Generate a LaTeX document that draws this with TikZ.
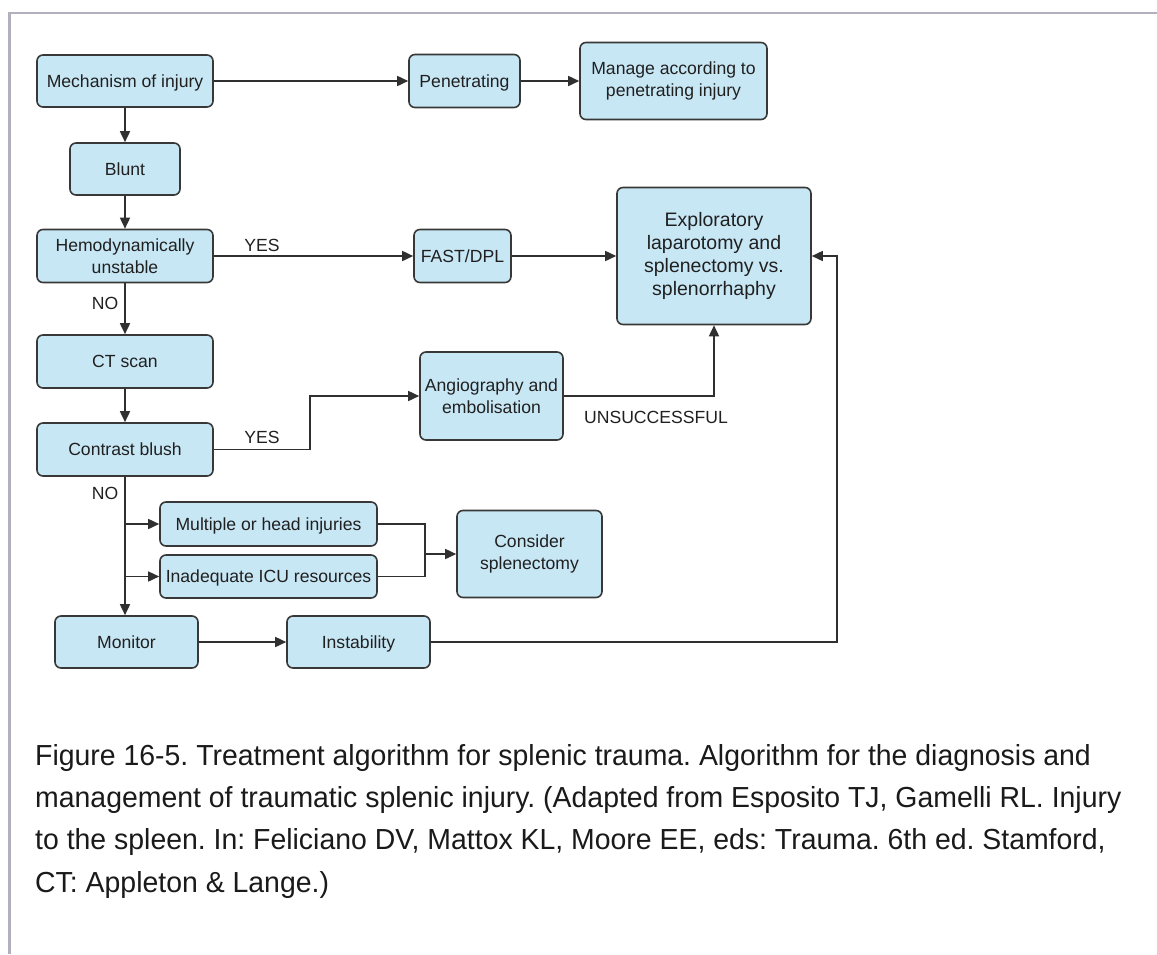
\documentclass[tikz,border=0pt]{standalone}
\usepackage{fontspec}
\setmainfont{Liberation Sans}
\newfontfamily\capfont[FakeStretch=0.98]{Liberation Sans}
\usetikzlibrary{arrows.meta,calc}
\definecolor{boxfill}{HTML}{C8E7F5}
\definecolor{boxline}{HTML}{383838}
\definecolor{linecol}{HTML}{303030}
\definecolor{txt}{HTML}{202020}
\definecolor{bordercol}{HTML}{B0B0BE}
\definecolor{captxt}{HTML}{1A1A1A}
\frenchspacing
\tikzset{
  box/.style={draw=boxline, fill=boxfill, line width=1.6pt, rounded corners=6pt,
    inner sep=0pt, align=center, text=txt, font=\fontsize{17.6}{21.7}\selectfont},
  oneline/.style={text height=14.6pt, text depth=2pt},
  bigbox/.style={box, font=\fontsize{19.5}{23.3}\selectfont},
  lbl/.style={inner sep=0pt, text=txt, font=\fontsize{17.6}{20}\selectfont},
  conn/.style={draw=linecol, line width=1.6pt},
  arr/.style={conn, -{Triangle[length=11pt,width=10pt]}},
  capline/.style={inner sep=0pt, anchor=base west, text=captxt, font=\capfont\fontsize{29}{42}\selectfont}
}
\begin{document}
\begin{tikzpicture}[x=1pt,y=-1pt]
\useasboundingbox (0,0) rectangle (1157,954);
\draw[bordercol, line width=2.5pt] (9.5,954) -- (9.5,13) -- (1157,13);

% left column
\node[box, oneline, minimum width=176, minimum height=52] (mech) at (125,81) {Mechanism of injury};
\node[box, oneline, minimum width=110, minimum height=52] (blunt) at (125,169) {Blunt};
\node[box, minimum width=176, minimum height=53] (hemo) at (125,256) {Hemodynamically\\unstable};
\node[box, oneline, minimum width=176, minimum height=53] (ct) at (125,361.5) {CT scan};
\node[box, oneline, minimum width=176, minimum height=53] (contrast) at (125,449.5) {Contrast blush};
\node[box, oneline, minimum width=143, minimum height=52] (monitor) at (126.5,642) {Monitor};

% right part
\node[box, oneline, minimum width=111, minimum height=53] (pen) at (464.5,81) {Penetrating};
\node[box, minimum width=187, minimum height=77] (manage) at (673.5,81) {Manage according to\\penetrating injury};
\node[box, oneline, minimum width=97, minimum height=53] (fast) at (462.5,256) {FAST/DPL};
\node[bigbox, minimum width=194, minimum height=137] (explo) at (714,256) {Exploratory\\laparotomy and\\splenectomy vs.\\splenorrhaphy};
\node[box, minimum width=143, minimum height=88] (angio) at (491.5,396) {Angiography and\\embolisation};
\node[box, oneline, minimum width=217, minimum height=44] (multi) at (268.5,524) {Multiple or head injuries};
\node[box, oneline, minimum width=217, minimum height=43] (icu) at (268.5,576.5) {Inadequate ICU resources};
\node[box, minimum width=145, minimum height=87] (consider) at (529.5,554) {Consider\\splenectomy};
\node[box, oneline, minimum width=143, minimum height=52] (instab) at (358.5,642) {Instability};

% labels
\node[lbl] (yes1) at (262,245) {YES};
\node[lbl] (no1) at (105,303) {NO};
\node[lbl] (yes2) at (262,437) {YES};
\node[lbl] (no2) at (105,493) {NO};
\node[lbl] (unsucc) at (656,417) {UNSUCCESSFUL};

% connectors
\draw[arr] (mech.east) -- (pen.west);
\draw[arr] (pen.east) -- (manage.west);
\draw[arr] (mech) -- (blunt);
\draw[arr] (blunt) -- (hemo);
\draw[arr] (hemo.east) -- (fast.west);
\draw[arr] (fast.east) -- (explo.west);
\draw[arr] (hemo) -- (ct);
\draw[arr] (ct) -- (contrast);
\coordinate (yj) at (310,449.5);
\draw[arr] (contrast.east) -- (yj) |- (angio.west);
\draw[arr] (angio.east) -| (explo.south);
\draw[arr] (contrast.south) -- (contrast.south |- monitor.north);
\draw[arr] (contrast.south |- multi.west) -- (multi.west);
\draw[arr] (contrast.south |- icu.west) -- (icu.west);
\coordinate (mg) at (425,554);
\draw[conn] (multi.east) -| (mg) |- (icu.east);
\draw[arr] (mg) -- (consider.west);
\draw[arr] (monitor) -- (instab);
\coordinate (rt) at (837,642);
\draw[arr] (instab.east) -- (rt) |- (explo.east);

% caption
\node[capline] (cap1) at (35,765) {Figure 16-5. Treatment algorithm for splenic trauma. Algorithm for the diagnosis and};
\node[capline] (cap2) at (35,807) {management of traumatic splenic injury. (Adapted from Esposito TJ, Gamelli RL. Injury};
\node[capline] (cap3) at (35,849) {to the spleen. In: Feliciano DV, Mattox KL, Moore EE, eds: Trauma. 6th ed. Stamford,};
\node[capline] (cap4) at (35,892) {CT: Appleton \& Lange.)};
\end{tikzpicture}
\end{document}
